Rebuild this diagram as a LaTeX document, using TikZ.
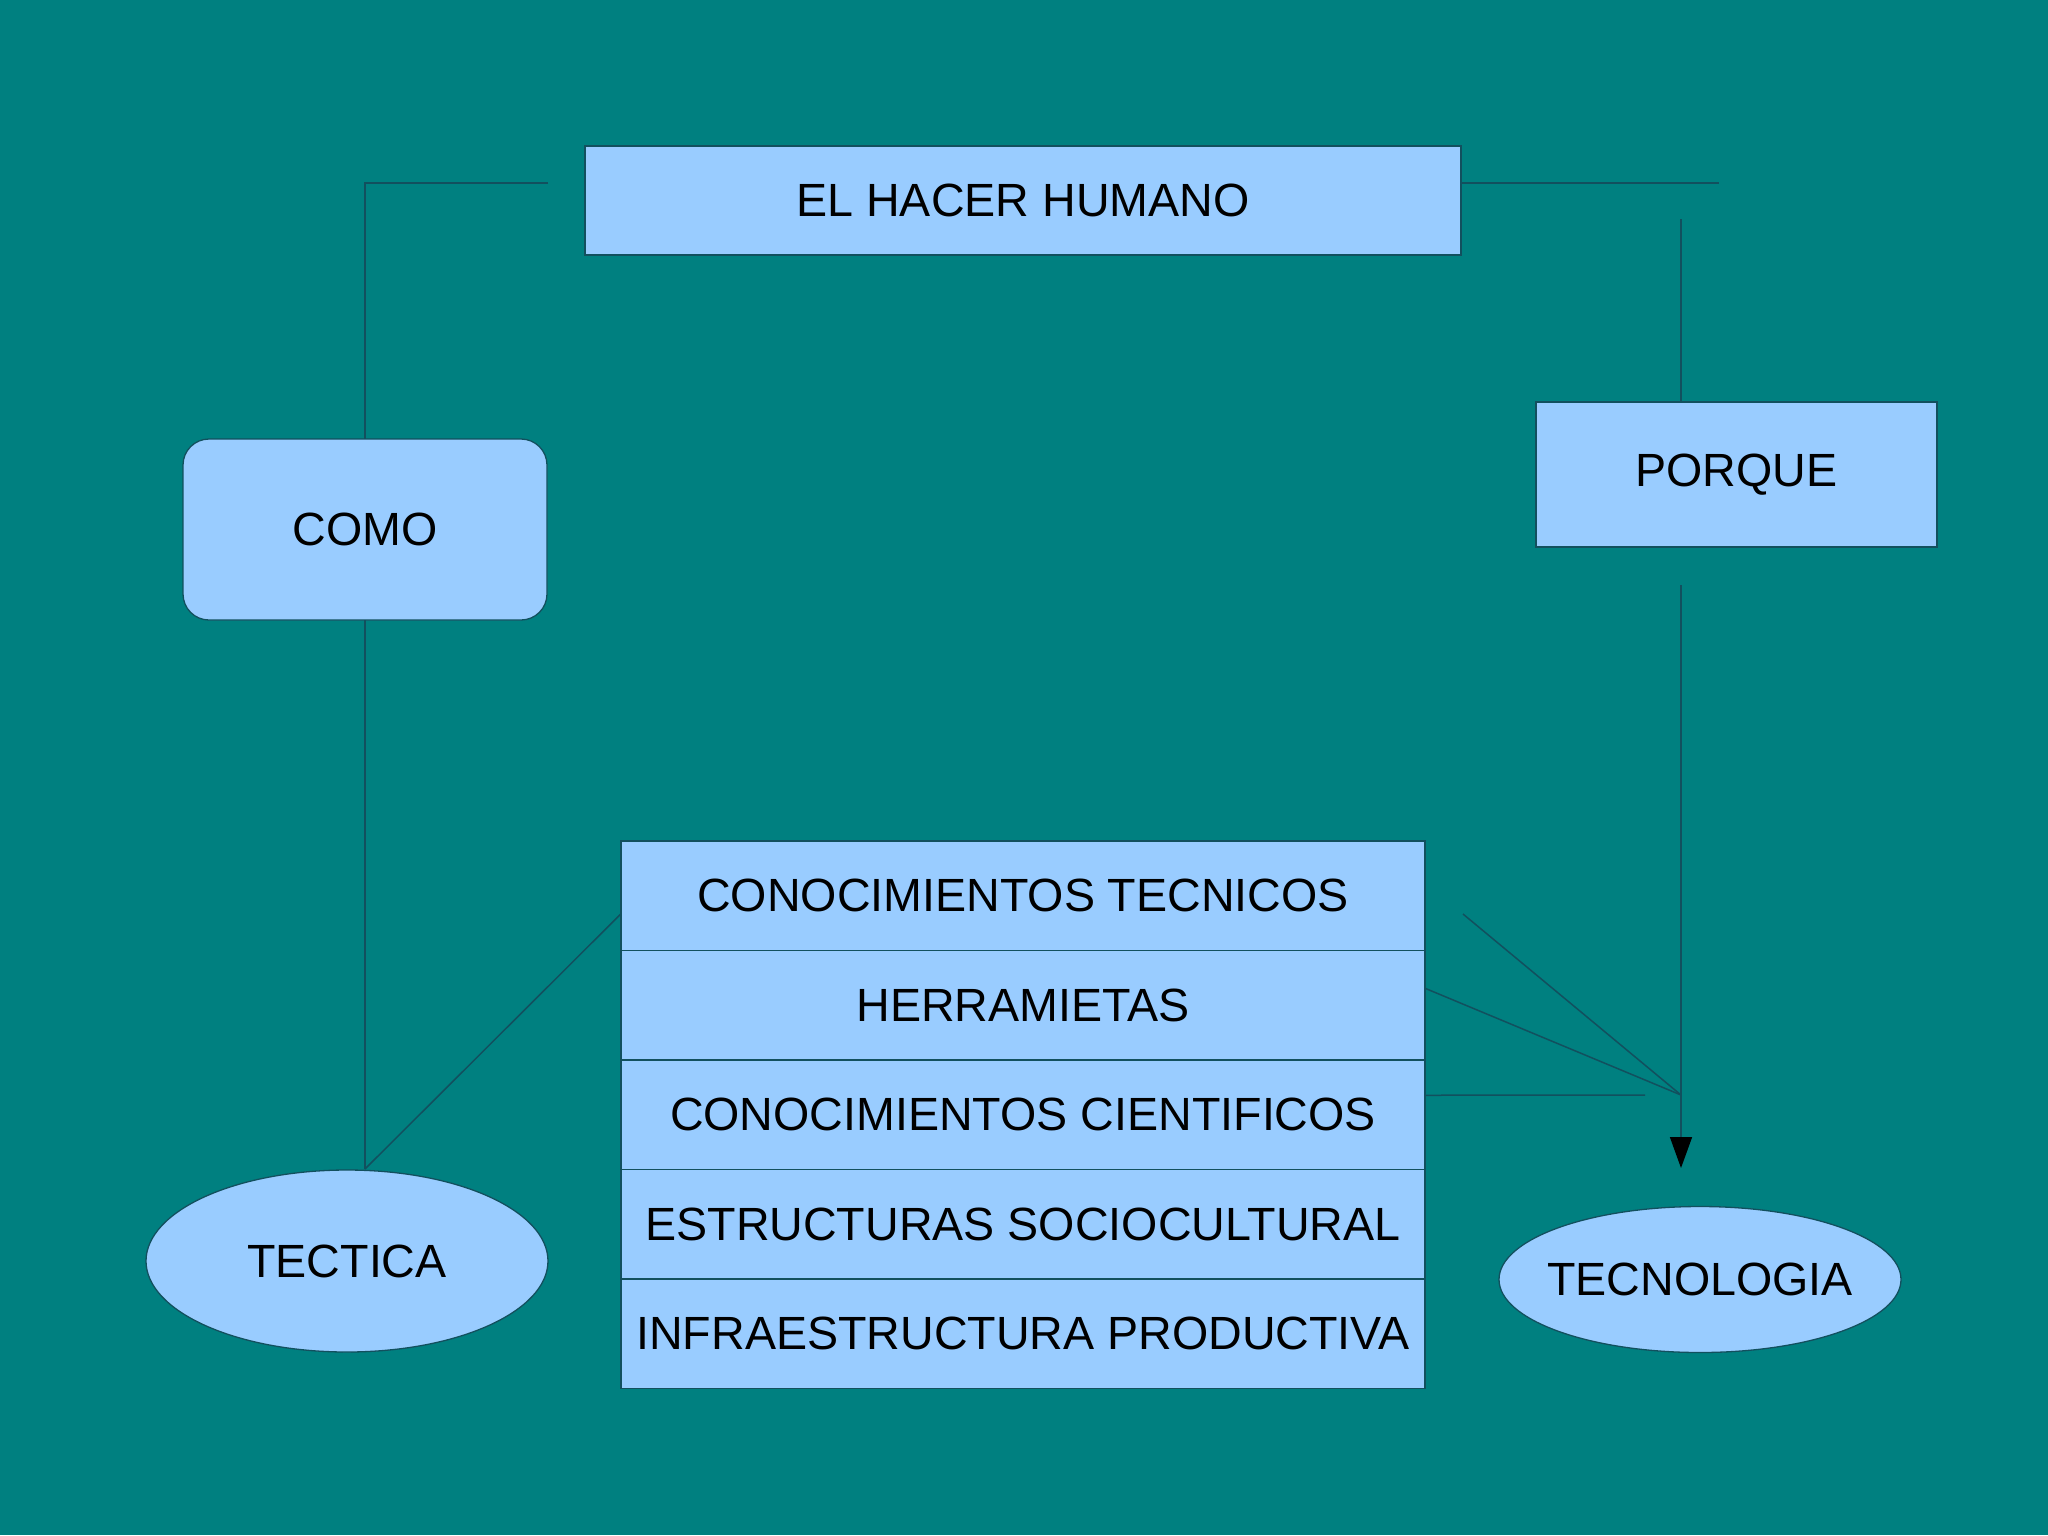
\documentclass[tikz,border=0pt]{standalone}
\usepackage{fontspec}
\setmainfont{Liberation Sans}
\usepackage{tikz}
\usetikzlibrary{positioning,arrows.meta,shapes.geometric}
\definecolor{bgteal}{HTML}{008080}
\definecolor{boxblue}{HTML}{99CCFF}
\definecolor{linecol}{HTML}{12505E}
\tikzset{
  line/.style  = {draw=linecol, line width=1.5pt},
  arrow/.style = {line, -{Triangle[length=31pt, width=22pt, color=black]}},
  box/.style   = {draw=linecol, line width=1.3pt, fill=boxblue, inner sep=0pt, outer sep=0pt,
                  font=\fontsize{46.6}{56}\selectfont},
  rowbox/.style   = {box, minimum width=804pt, minimum height=109.5pt},
  roundbox/.style = {box, rounded corners=26pt, minimum width=364pt, minimum height=181pt},
  oval/.style     = {box, ellipse, inner sep=-20pt},
}

\begin{document}
\begin{tikzpicture}[x=1pt, y=-1pt]
  \fill[bgteal] (0,0) rectangle (2048,1535);
  \node[box, minimum width=876pt, minimum height=109pt] (hacer) at (1023,200.5) {EL HACER HUMANO};
  \node[roundbox] (como) at (365,529.5) {COMO};
  \node[box, minimum width=401pt, minimum height=145pt] (porque) at (1736.5,474.5) {PORQUE};
  \node[oval, minimum width=402pt, minimum height=182pt] (tectica) at (347,1261) {TECTICA};
  \node[oval, minimum width=402pt, minimum height=146pt] (tecno) at (1700,1279.5) {TECNOLOGIA};
  % stacked rows
  \node[rowbox] (ctec) at (1023,895.75) {CONOCIMIENTOS TECNICOS};
  \node[rowbox, below=0pt of ctec] (herr) {HERRAMIETAS};
  \node[rowbox, below=0pt of herr] (ccien) {CONOCIMIENTOS CIENTIFICOS};
  \node[rowbox, below=0pt of ccien] (estr) {ESTRUCTURAS SOCIOCULTURAL};
  \node[rowbox, below=0pt of estr] (infra) {INFRAESTRUCTURA PRODUCTIVA};
  % loose ends
  \coordinate (hacerL) at (548,183);
  \coordinate (hacerR) at (1719,183);
  \coordinate (porqueT) at (1681,219);
  \coordinate (porqueB) at (1681,585);
  \coordinate (tecnoT) at (1681,1168);
  \coordinate (fan) at (1681,1095);
  \coordinate (tecL) at (365,1169);
  \coordinate (ctecR) at (1463,914);
  \coordinate (ccienR) at (1645,1095);
  \draw[line] (hacerL) -| (como.north);
  \draw[line] (como.south) -- (tecL);
  \draw[line] (tecL) -- ([yshift=-18pt]ctec.west);
  \draw[line] (hacer.east |- hacerR) -- (hacerR);
  \draw[line] (porqueT) -- (porqueT |- porque.north);
  \draw[arrow] (porqueB) -- (tecnoT);
  \draw[line] (ctecR) -- (fan);
  \draw[line] ([yshift=17pt]herr.east) -- (fan);
  \draw[line] ([yshift=19.5pt]ccien.east) -- (ccienR);
\end{tikzpicture}
\end{document}
